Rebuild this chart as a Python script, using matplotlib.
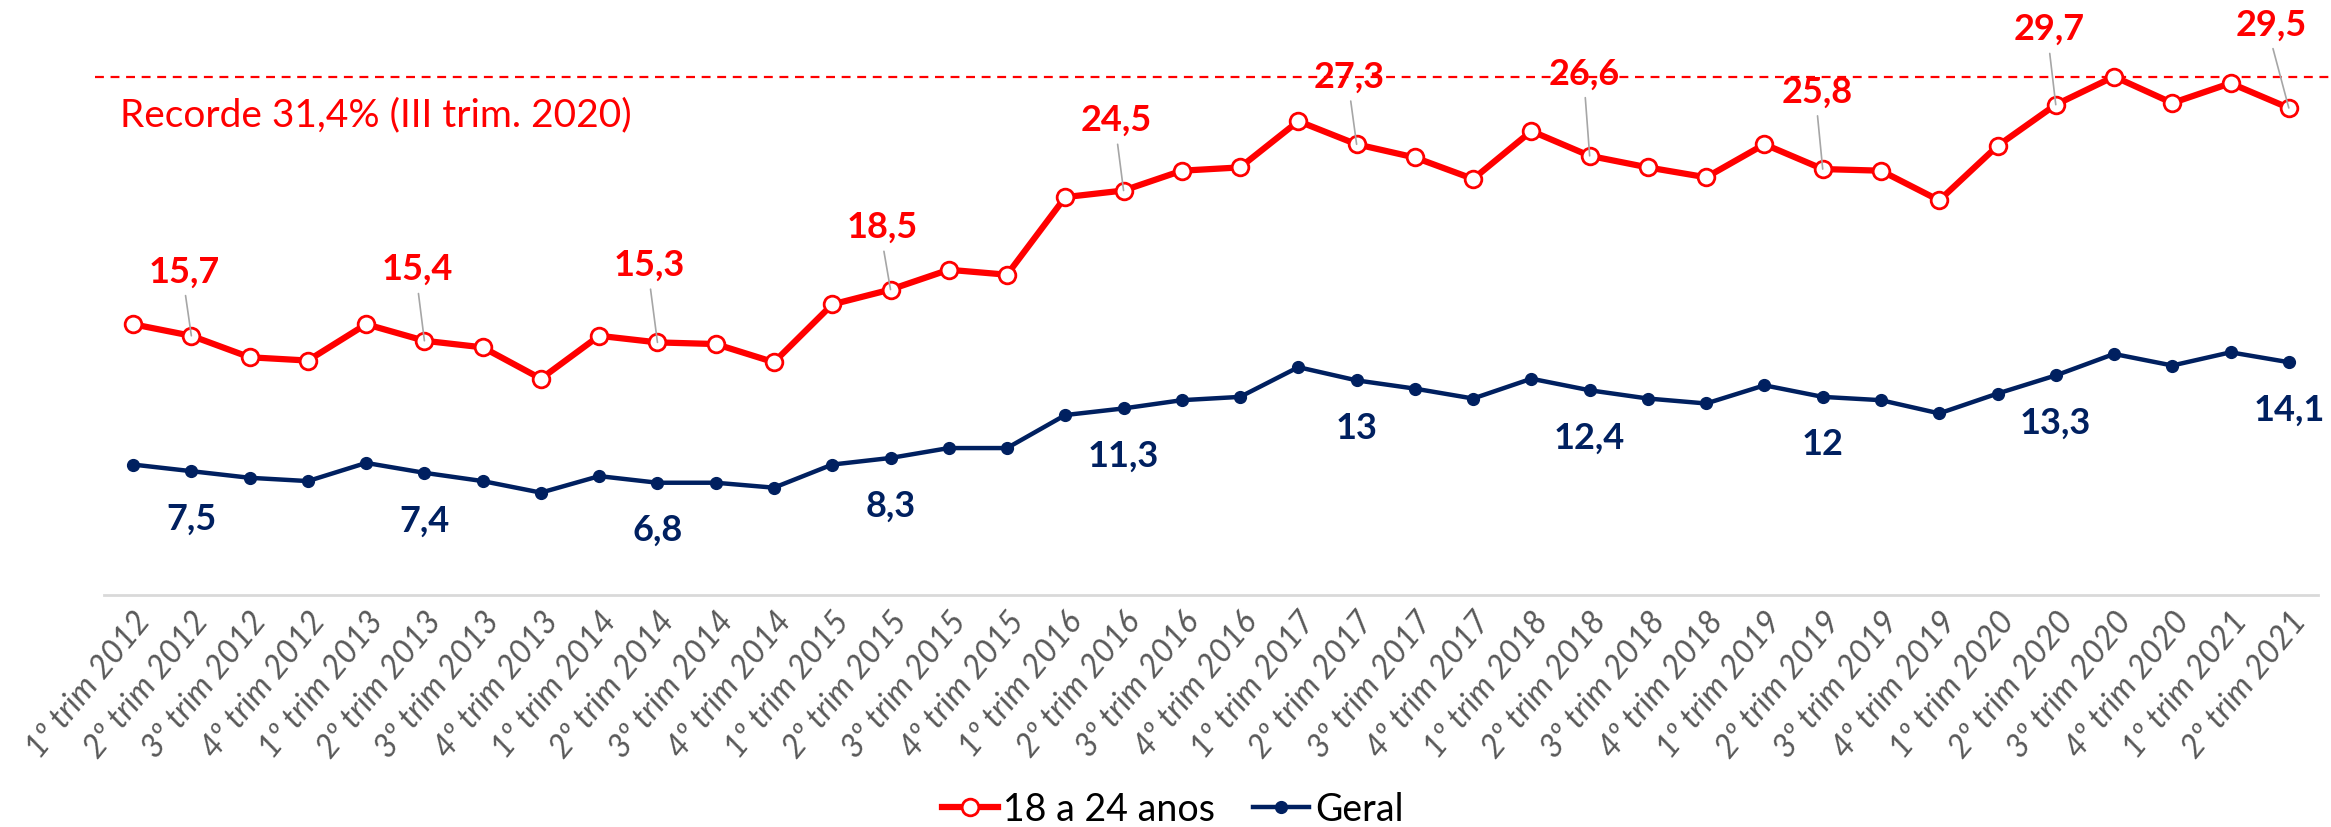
import numpy as np
import matplotlib
matplotlib.use("Agg")
import matplotlib.pyplot as plt

plt.rcParams['font.family'] = ['Lato', 'DejaVu Sans']

# quarters 2012 Q1 .. 2021 Q2
quarters = []
for year in range(2012, 2022):
    for q in range(1, 5):
        if year == 2021 and q > 2:
            break
        quarters.append("%dº trim %d" % (q, year))

jovens = [16.4, 15.7, 14.4, 14.2, 16.4, 15.4, 15.0, 13.1,
          15.7, 15.3, 15.2, 14.1, 17.6, 18.5, 19.7, 19.4,
          24.1, 24.5, 25.7, 25.9, 28.7, 27.3, 26.5, 25.2,
          28.1, 26.6, 25.9, 25.3, 27.3, 25.8, 25.7, 23.9,
          27.2, 29.7, 31.4, 29.8, 31.0, 29.5]
geral = [7.9, 7.5, 7.1, 6.9, 8.0, 7.4, 6.9, 6.2,
         7.2, 6.8, 6.8, 6.5, 7.9, 8.3, 8.9, 8.9,
         10.9, 11.3, 11.8, 12.0, 13.8, 13.0, 12.5, 11.9,
         13.1, 12.4, 11.9, 11.6, 12.7, 12.0, 11.8, 11.0,
         12.2, 13.3, 14.6, 13.9, 14.7, 14.1]
recorde = 31.4
label_idx = list(range(1, len(quarters), 4))

RED = '#FF0000'
NAVY = '#002060'

fig = plt.figure(figsize=(23.31, 8.28), dpi=100)
ax = fig.add_axes([0.0446, 0.2802, 0.9498, 0.7198])
x = np.arange(len(quarters))

ax.plot(x, jovens, '-o', color=RED, lw=4.5, ms=12, mfc='white', mec=RED, mew=2,
        label='18 a 24 anos', zorder=4)
ax.plot(x, geral, '-o', color=NAVY, lw=3.2, ms=8.5, label='Geral', zorder=4)

# record line
ax.axhline(recorde, xmin=-0.004, xmax=1.01, color=RED, lw=1.6, ls=(0, (4, 3)),
           clip_on=False, zorder=2)
ax.text(-0.22, recorde - 2.3, 'Recorde 31,4% (III trim. 2020)', color=RED,
        fontsize=28, va='center', ha='left')

# label offsets (pixels -> points at 100 dpi)
red_dy = [65, 72, 78, 63, 71, 68, 83, 78, 76, 84]
red_dx = [-7, -7, -8, -8, -7, -7, -5, -6, -7, -18]
for k, i in enumerate(label_idx):
    ax.annotate(('%.1f' % jovens[i]).replace('.', ','), (x[i], jovens[i]),
                xytext=(red_dx[k] * 0.72, red_dy[k] * 0.72), textcoords='offset points',
                ha='center', va='center', fontsize=26, fontweight='bold', color=RED,
                arrowprops=dict(arrowstyle='-', color='#A6A6A6', lw=1.2,
                                relpos=(0.5, 0), shrinkA=4, shrinkB=0),
                zorder=5)
    g = geral[i]
    txt = ('%g' % g).replace('.', ',')
    ax.annotate(txt, (x[i], g), xytext=(0, -47 * 0.72), textcoords='offset points',
                ha='center', va='center', fontsize=26, fontweight='bold', color=NAVY,
                annotation_clip=False)

ax.set_xlim(-0.5, len(quarters) - 0.5)
ax.set_ylim(0, 36.1)
ax.set_yticks([])
for s in ['left', 'right', 'top']:
    ax.spines[s].set_visible(False)
ax.spines['bottom'].set_color('#D9D9D9')
ax.spines['bottom'].set_linewidth(2)

ax.set_xticks(x)
ax.set_xticklabels(quarters, rotation=51, ha='right', rotation_mode='anchor',
                   fontsize=23.5, style='italic', color='#595959')
ax.tick_params(axis='x', length=0, pad=8)

fig.legend(loc='center', bbox_to_anchor=(0.503, 0.022), ncol=2, frameon=False,
           fontsize=27, handlelength=1.5, columnspacing=1.0, handletextpad=0.15)

fig.savefig('out.png', dpi=100)
